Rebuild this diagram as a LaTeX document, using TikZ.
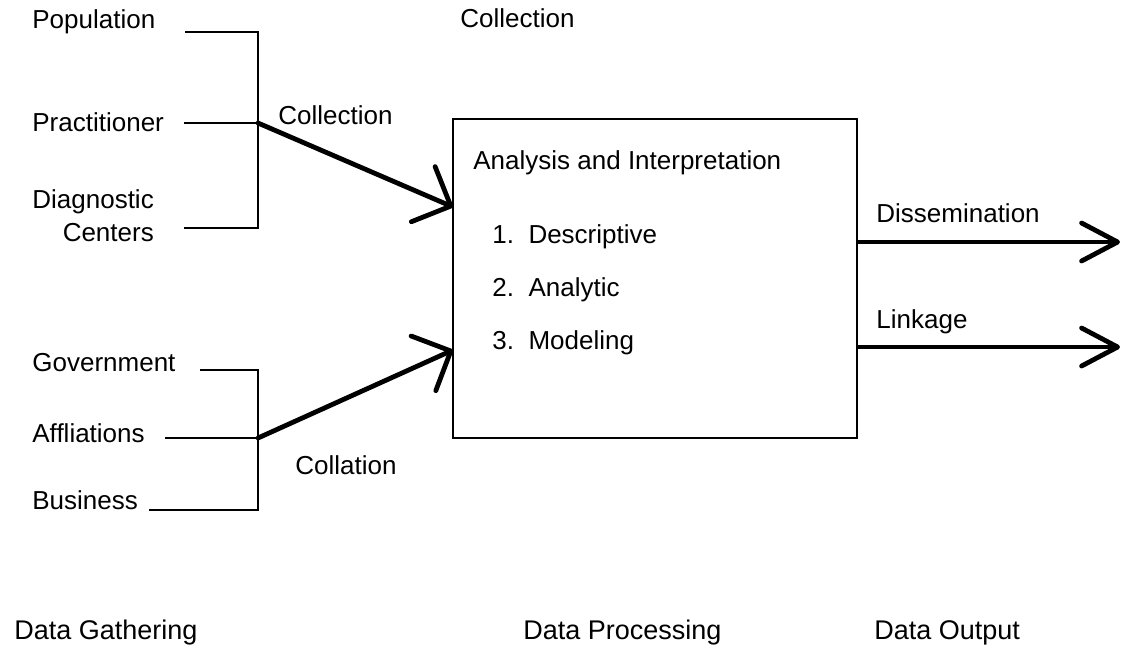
\documentclass[tikz,border=0pt]{standalone}
\usepackage{fontspec}
\setmainfont{Liberation Sans}
\usetikzlibrary{arrows.meta}

\tikzset{
  lbl/.style={font=\fontsize{13}{16.5}\selectfont, inner sep=0pt, anchor=west},
  stage/.style={font=\fontsize{13.5}{16}\selectfont, inner sep=0pt, anchor=west},
  brack/.style={line width=1.3pt},
  flowin/.style={line width=2.4pt, line cap=round,
    -{Straight Barb[length=15pt,width=30pt,round]}},
  flowout/.style={line width=2.4pt, line cap=round,
    -{Straight Barb[length=18pt,width=19pt,round]}},
  procbox/.style={draw, line width=1.3pt, inner sep=0pt,
    minimum width=202pt, minimum height=159.5pt}
}

\begin{document}
\begin{tikzpicture}[x=0.5pt,y=-0.5pt]
	\useasboundingbox (0,0) rectangle (1124,655);
	
	% upper sources
	\node [lbl] (pop) at (32,22) {Population};
	\node [lbl] (prac) at (32,122) {Practitioner};
	\node [lbl, align=right] (diag) at (32,216) {Diagnostic\\Centers};
	
	\coordinate (popend) at (185,32);
	\coordinate (pracend) at (184,123);
	\coordinate (diagend) at (184,228);
	\coordinate (hubA) at (258,123);
	
	\draw [brack] (popend) -| (hubA) |- (diagend);
	\draw [brack] (pracend) -- (hubA);
	
	% lower sources
	\node [lbl] (gov) at (32,363) {Government};
	\node [lbl] (aff) at (32,433) {Affliations};
	\node [lbl] (bus) at (32,500) {Business};
	
	\coordinate (govend) at (200,370);
	\coordinate (affend) at (165,438);
	\coordinate (busend) at (149,510);
	\coordinate (hubB) at (258,438);
	
	\draw [brack] (govend) -| (hubB) |- (busend);
	\draw [brack] (affend) -- (hubB);
	
	% processing box
	\node [procbox] (box) at (655,278.5) {};
	
	\node [lbl] (ana) at (473,163) {Analysis and Interpretation};
	\node [lbl] (desc) at (492,237) {1.\ \ Descriptive};
	\node [lbl] (anal) at (492,290) {2.\ \ Analytic};
	\node [lbl] (model) at (492,343) {3.\ \ Modeling};
	
	\coordinate (tipA) at (453,207);
	\coordinate (tipB) at (453,350);
	
	\draw [flowin] (hubA) -- (tipA);
	\draw [flowin] (hubB) -- (tipB);
	
	\node [lbl] (coll) at (278,115) {Collection};
	\node [lbl] (colltop) at (460,18) {Collection};
	\node [lbl] (colla) at (295,465) {Collation};
	
	% outputs
	\coordinate (disend) at (1120,242);
	\coordinate (linkend) at (1120,347);
	
	\draw [flowout] (box.east |- disend) -- (disend);
	\draw [flowout] (box.east |- linkend) -- (linkend);
	
	\node [lbl] (diss) at (876,213) {Dissemination};
	\node [lbl] (link) at (876,322) {Linkage};
	
	% stages
	\node [stage] (gath) at (14,633) {Data Gathering};
	\node [stage] (proc) at (523,633) {Data Processing};
	\node [stage] (outp) at (874,633) {Data Output};
	
\end{tikzpicture}
\end{document}
